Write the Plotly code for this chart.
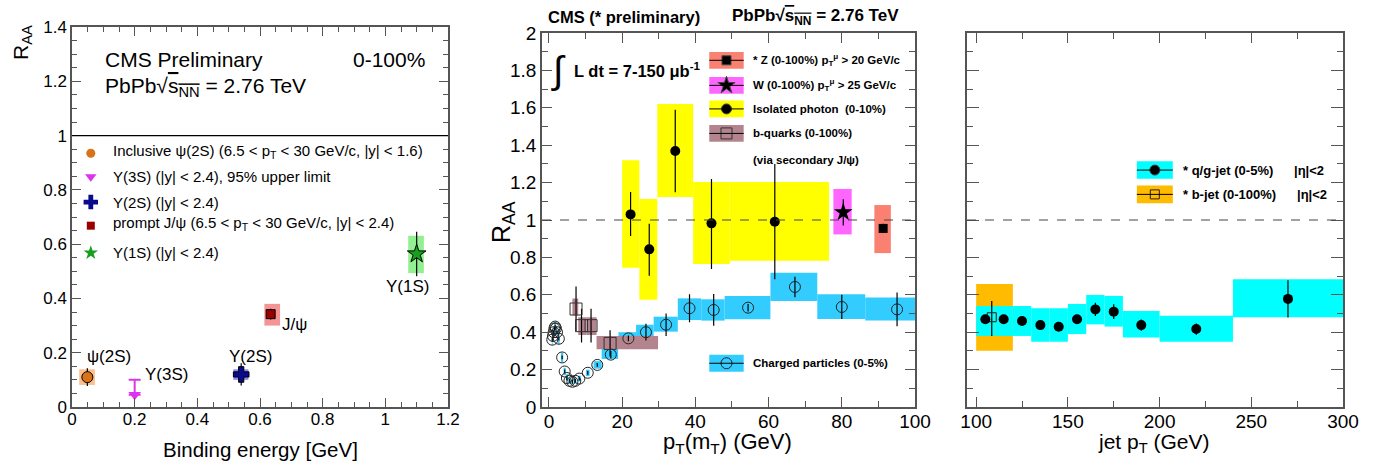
import plotly.graph_objects as go

W, H = 1377, 461
FONT = "Liberation Sans, Arial, sans-serif"

# ---------------- Panel 1 : quarkonia vs binding energy ----------------
q_names = ["ψ(2S)", "Υ(3S)", "Υ(2S)", "J/ψ", "Υ(1S)"]
q_binding = [0.049, 0.20, 0.54, 0.634, 1.10]
q_raa = [0.11, 0.10, 0.12, 0.342, 0.564]          # Υ(3S): 95% upper limit
q_stat = [0.033, 0.0, 0.041, 0.02, 0.082]
q_box_xlo = [0.023, None, 0.515, 0.614, 1.073]
q_box_xhi = [0.073, None, 0.563, 0.664, 1.123]
q_box_ylo = [0.081, None, 0.10, 0.30, 0.493]
q_box_yhi = [0.139, None, 0.139, 0.38, 0.631]
q_limit_tip = 0.045
q_colors = ["#D9731A", "#DD33EE", "#0A0A8C", "#9B0000", "#16A01E"]
q_box_colors = ["#FBC08E", None, "#8C8CF0", "#F49494", "#92F092"]
q_symbols = ["circle", "triangle-down", "cross", "square", "star"]
q_legend = [
    "Inclusive ψ(2S) (6.5 &lt; p<sub>T</sub> &lt; 30 GeV/c, |y| &lt; 1.6)",
    "Υ(3S) (|y| &lt; 2.4), 95% upper limit",
    "Υ(2S) (|y| &lt; 2.4)",
    "prompt J/ψ (6.5 &lt; p<sub>T</sub> &lt; 30 GeV/c, |y| &lt; 2.4)",
    "Υ(1S) (|y| &lt; 2.4)",
]

# ---------------- Panel 2 : RAA vs pT ----------------
# Isolated photons (0-10%)
ph_pt = [22.3, 27.4, 34.5, 44.4, 61.7]
ph_raa = [1.03, 0.843, 1.369, 0.982, 0.991]
ph_eup = [0.12, 0.137, 0.221, 0.237, 0.309]
ph_edn = [0.116, 0.141, 0.221, 0.244, 0.308]
ph_xlo = [20.0, 24.7, 29.6, 39.4, 49.4]
ph_xhi = [24.7, 29.6, 39.4, 49.4, 76.5]
ph_slo = [0.745, 0.574, 1.123, 0.765, 0.782]
ph_shi = [1.32, 1.112, 1.62, 1.203, 1.203]
# W (0-100%)
w_pt = [80.4]
w_raa = [1.041]
w_err = [0.07]
w_xlo, w_xhi, w_slo, w_shi = [77.7], [82.7], [0.923], [1.166]
# Z (0-100%)
z_pt = [91.3]
z_raa = [0.955]
z_err = [0.025]
z_xlo, z_xhi, z_slo, z_shi = [88.9], [93.4], [0.823], [1.08]
# b-quarks via secondary J/psi
bq_pt = [7.4, 8.9, 11.5, 16.7]
bq_raa = [0.524, 0.435, 0.435, 0.34]
bq_err = [0.12, 0.09, 0.09, 0.07]
bq_xlo = [6.4, 8.0, 10.3, 13.0]
bq_xhi = [8.0, 10.3, 13.0, 29.8]
bq_slo = [0.49, 0.385, 0.385, 0.309]
bq_shi = [0.58, 0.48, 0.48, 0.38]
# Charged particles (0-5%)
ch_pt = [0.9, 1.1, 1.3, 1.5, 1.7, 1.9, 2.2, 2.7, 3.6, 4.3, 4.9, 5.6, 6.4, 7.2, 8.3, 10.6, 13.2,
         16.9, 21.7, 26.5, 32.0, 38.4, 45.0, 54.4, 67.2, 80.0, 95.1]
ch_raa = [0.36, 0.38, 0.40, 0.42, 0.43, 0.42, 0.40, 0.365, 0.265, 0.19, 0.155, 0.14, 0.135, 0.14,
          0.152, 0.183, 0.225, 0.28, 0.367, 0.40, 0.44, 0.528, 0.519, 0.531, 0.642, 0.535, 0.522]
ch_err = [0.01] * 17 + [0.02, 0.015, 0.045, 0.06, 0.075, 0.085, 0.02, 0.055, 0.065, 0.09]
ch_xlo = [0.8, 1.0, 1.2, 1.4, 1.6, 1.8, 2.1, 2.5, 3.3, 4.0, 4.6, 5.3, 6.1, 6.9, 7.9, 10.1, 12.2,
          14.4, 19.0, 23.8, 28.6, 35.2, 41.6, 48.0, 60.5, 73.3, 86.4]
ch_xhi = [1.0, 1.2, 1.4, 1.6, 1.8, 2.0, 2.3, 2.9, 3.9, 4.6, 5.2, 5.9, 6.7, 7.5, 8.7, 11.1, 14.4,
          18.9, 23.8, 28.6, 35.2, 41.6, 48.0, 60.5, 73.3, 86.4, 100.0]
ch_slo = [0.33, 0.35, 0.37, 0.39, 0.40, 0.39, 0.37, 0.335, 0.24, 0.17, 0.14, 0.125, 0.12, 0.125,
          0.137, 0.165, 0.205, 0.257, 0.34, 0.36, 0.403, 0.465, 0.462, 0.469, 0.567, 0.471, 0.462]
ch_shi = [0.39, 0.41, 0.43, 0.45, 0.46, 0.45, 0.43, 0.395, 0.29, 0.21, 0.175, 0.155, 0.15, 0.155,
          0.167, 0.20, 0.245, 0.314, 0.40, 0.44, 0.483, 0.581, 0.576, 0.594, 0.718, 0.603, 0.585]

# ---------------- Panel 3 : jets ----------------
jet_pt = [105, 115, 125, 135, 145, 155, 165, 175, 190, 220, 270]
jet_raa = [0.469, 0.469, 0.46, 0.438, 0.429, 0.469, 0.522, 0.51, 0.438, 0.417, 0.578]
jet_err = [0.015, 0.015, 0.015, 0.015, 0.015, 0.02, 0.035, 0.04, 0.03, 0.03, 0.1]
jet_xlo = [100, 110, 120, 130, 140, 150, 160, 170, 180, 200, 240]
jet_xhi = [110, 120, 130, 140, 150, 160, 170, 180, 200, 240, 300]
jet_slo = [0.38, 0.38, 0.38, 0.349, 0.349, 0.39, 0.442, 0.43, 0.371, 0.349, 0.48]
jet_shi = [0.54, 0.54, 0.54, 0.528, 0.528, 0.551, 0.599, 0.594, 0.513, 0.488, 0.683]
bjet_pt = [108.5]
bjet_raa = [0.48]
bjet_eup, bjet_edn = [0.087], [0.10]
bjet_xlo, bjet_xhi, bjet_slo, bjet_shi = [100], [120], [0.301], [0.658]

C_YELLOW = "#FFFF00"
C_W = "#FF66FF"
C_Z = "#FA8072"
C_BQ = "#B4848E"
C_CH = "#33CCFF"
C_JET = "#00FFFF"
C_BJET = "#FFBB00"

fig = go.Figure()
shapes = []
annotations = []


def add_boxes(xref, yref, xlo, xhi, ylo, yhi, color):
    for a, b, c, d in zip(xlo, xhi, ylo, yhi):
        if a is None:
            continue
        shapes.append(dict(type="rect", xref=xref, yref=yref, x0=a, x1=b, y0=c, y1=d,
                           fillcolor=color, line=dict(width=0), layer="below"))


def err(up, dn=None, w=0):
    return dict(type="data", symmetric=dn is None, array=up, arrayminus=dn,
                color="black", thickness=1.2, width=w)


def text(t, x, y, xref, yref, size, xanchor="left", yanchor="middle", angle=0):
    annotations.append(dict(text=t, x=x, y=y, xref=xref, yref=yref, showarrow=False,
                            xanchor=xanchor, yanchor=yanchor, textangle=angle,
                            font=dict(family=FONT, size=size, color="black")))


# ---- Panel 1 ----
for i in range(5):
    if q_box_colors[i]:
        add_boxes("x", "y", [q_box_xlo[i]], [q_box_xhi[i]], [q_box_ylo[i]], [q_box_yhi[i]], q_box_colors[i])
for i in [0, 2, 3, 4]:
    fig.add_trace(go.Scatter(
        x=[q_binding[i]], y=[q_raa[i]], mode="markers", xaxis="x", yaxis="y",
        marker=dict(symbol=q_symbols[i], color=q_colors[i], size=[11, 0, 13, 9, 14][i],
                    line=dict(color="black", width=1)),
        error_y=err([q_stat[i]])))
# upper limit Υ(3S)
fig.add_trace(go.Scatter(
    x=[q_binding[1]], y=[q_raa[1]], mode="markers", xaxis="x", yaxis="y",
    marker=dict(size=1, color="rgba(0,0,0,0)"),
    error_y=dict(type="data", symmetric=False, array=[0], arrayminus=[q_raa[1] - q_limit_tip],
                 color=q_colors[1], thickness=2, width=6)))
fig.add_trace(go.Scatter(
    x=[q_binding[1]], y=[q_limit_tip], mode="markers", xaxis="x", yaxis="y",
    marker=dict(symbol="triangle-down", color=q_colors[1], size=11)))

shapes.append(dict(type="line", xref="x domain", yref="y", x0=0, x1=1, y0=1, y1=1,
                   line=dict(color="black", width=1.2)))

# point labels
lab_pos = [(0.118, 0.185), (0.30, 0.118), (0.57, 0.185), (0.709, 0.305), (1.07, 0.443)]
for name, (lx, ly) in zip(q_names, lab_pos):
    text(name, lx, ly, "x", "y", 17, xanchor="center")

# legend panel 1
leg_y = [0.935, 0.848, 0.755, 0.668, 0.568]
leg_sizes = [9, 10, 12, 8, 11]
for i in range(5):
    fig.add_trace(go.Scatter(x=[0.06], y=[leg_y[i]], mode="markers", xaxis="x", yaxis="y",
                             marker=dict(symbol=q_symbols[i], color=q_colors[i], size=leg_sizes[i])))
    text(q_legend[i], 0.125, leg_y[i] + (0.008 if "sub" in q_legend[i] else 0), "x", "y", 15)

text("CMS Preliminary", 0.1, 1.279, "x", "y", 21)
text("0-100%", 1.133, 1.279, "x", "y", 21, xanchor="right")
text("PbPb√<span style='text-decoration:overline'>s<sub>NN</sub></span> = 2.76 TeV", 0.1, 1.18, "x", "y", 21)
text("R<sub>AA</sub>", 22 / W, (H - 43) / H, "paper", "paper", 21, xanchor="center", angle=-90)
text("Binding energy [GeV]", 260 / W, (H - 449) / H, "paper", "paper", 20.5, xanchor="center")

# ---- Panel 2 ----
add_boxes("x2", "y2", ph_xlo, ph_xhi, ph_slo, ph_shi, C_YELLOW)
add_boxes("x2", "y2", w_xlo, w_xhi, w_slo, w_shi, C_W)
add_boxes("x2", "y2", z_xlo, z_xhi, z_slo, z_shi, C_Z)
add_boxes("x2", "y2", ch_xlo, ch_xhi, ch_slo, ch_shi, C_CH)
add_boxes("x2", "y2", bq_xlo, bq_xhi, bq_slo, bq_shi, C_BQ)

shapes.append(dict(type="line", xref="x2 domain", yref="y2", x0=0, x1=1, y0=1, y1=1,
                   line=dict(color="#444", width=1, dash="dash")))

fig.add_trace(go.Scatter(x=ch_pt, y=ch_raa, mode="markers", xaxis="x2", yaxis="y2",
                         marker=dict(symbol="circle-open", color="#222", size=11, line=dict(width=1)),
                         error_y=err(ch_err)))
fig.add_trace(go.Scatter(x=bq_pt, y=bq_raa, mode="markers", xaxis="x2", yaxis="y2",
                         marker=dict(symbol="square-open", color="#333", size=12, line=dict(width=1)),
                         error_y=err(bq_err)))
fig.add_trace(go.Scatter(x=ph_pt, y=ph_raa, mode="markers", xaxis="x2", yaxis="y2",
                         marker=dict(symbol="circle", color="black", size=10),
                         error_y=err(ph_eup, ph_edn)))
fig.add_trace(go.Scatter(x=w_pt, y=w_raa, mode="markers", xaxis="x2", yaxis="y2",
                         marker=dict(symbol="star", color="black", size=14),
                         error_y=err(w_err)))
fig.add_trace(go.Scatter(x=z_pt, y=z_raa, mode="markers", xaxis="x2", yaxis="y2",
                         marker=dict(symbol="square", color="black", size=9),
                         error_y=err(z_err)))

# legend panel 2
lg_x0, lg_x1, lg_tx = 43.8, 53.2, 55.3
leg2 = [
    (1.854, C_Z, "square", "black", 9, "<b>* Z (0-100%) p<sub>T</sub><sup>μ</sup> &gt; 20 GeV/c</b>"),
    (1.72, C_W, "star", "black", 13, "<b>W (0-100%) p<sub>T</sub><sup>μ</sup> &gt; 25 GeV/c</b>"),
    (1.594, C_YELLOW, "circle", "black", 10, "<b>Isolated photon  (0-10%)</b>"),
    (1.463, C_BQ, "square-open", "#333", 11, "<b>b-quarks (0-100%)</b>"),
    (0.234, C_CH, "circle-open", "#222", 11, "<b>Charged particles (0-5%)</b>"),
]
for (ly, bc, sym, mc, ms, t) in leg2:
    shapes.append(dict(type="rect", xref="x2", yref="y2", x0=lg_x0, x1=lg_x1, y0=ly - 0.045, y1=ly + 0.045,
                       fillcolor=bc, line=dict(width=0), layer="below"))
    shapes.append(dict(type="line", xref="x2", yref="y2", x0=lg_x0, x1=lg_x1, y0=ly, y1=ly,
                       line=dict(color="black", width=1)))
    fig.add_trace(go.Scatter(x=[(lg_x0 + lg_x1) / 2], y=[ly], mode="markers", xaxis="x2", yaxis="y2",
                             marker=dict(symbol=sym, color=mc, size=ms, line=dict(width=1))))
    text(t, lg_tx, ly, "x2", "y2", 11.5)
text("<b>(via secondary J/ψ)</b>", lg_tx, 1.32, "x2", "y2", 11.5)

text("∫", 2.6, 1.80, "x2", "y2", 38, xanchor="center")
text("<b>L dt = 7-150 μb<sup>-1</sup></b>", 6.2, 1.80, "x2", "y2", 16.5)
text("<b>CMS (* preliminary)</b>", 546 / W, (H - 16.5) / H, "paper", "paper", 16.5)
text("<b>PbPb√<span style='text-decoration:overline'>s<sub>NN</sub></span> = 2.76 TeV</b>", 730 / W, (H - 16.5) / H,
     "paper", "paper", 17)
text("R<sub>AA</sub>", 503 / W, (H - 222) / H, "paper", "paper", 25, xanchor="center", angle=-90)
text("p<sub>T</sub>(m<sub>T</sub>) (GeV)", 727 / W, (H - 443) / H, "paper", "paper", 22, xanchor="center")

# ---- Panel 3 ----
add_boxes("x3", "y3", bjet_xlo, bjet_xhi, bjet_slo, bjet_shi, C_BJET)
add_boxes("x3", "y3", jet_xlo, jet_xhi, jet_slo, jet_shi, C_JET)
shapes.append(dict(type="line", xref="x3 domain", yref="y3", x0=0, x1=1, y0=1, y1=1,
                   line=dict(color="#444", width=1, dash="dash")))
fig.add_trace(go.Scatter(x=bjet_pt, y=bjet_raa, mode="markers", xaxis="x3", yaxis="y3",
                         marker=dict(symbol="square-open", color="#222", size=9, line=dict(width=1)),
                         error_y=err(bjet_eup, bjet_edn)))
fig.add_trace(go.Scatter(x=jet_pt, y=jet_raa, mode="markers", xaxis="x3", yaxis="y3",
                         marker=dict(symbol="circle", color="black", size=10),
                         error_y=err(jet_err)))

leg3 = [
    (1.267, C_JET, "circle", "black", 10, "<b>* q/g-jet (0-5%)</b>", 272),
    (1.137, C_BJET, "square-open", "#222", 9, "<b>* b-jet (0-100%)</b>", 274),
]
for (ly, bc, sym, mc, ms, t, ex) in leg3:
    shapes.append(dict(type="rect", xref="x3", yref="y3", x0=187.6, x1=207.2, y0=ly - 0.047, y1=ly + 0.047,
                       fillcolor=bc, line=dict(width=0), layer="below"))
    shapes.append(dict(type="line", xref="x3", yref="y3", x0=187.6, x1=207.2, y0=ly, y1=ly,
                       line=dict(color="black", width=1)))
    fig.add_trace(go.Scatter(x=[197.4], y=[ly], mode="markers", xaxis="x3", yaxis="y3",
                             marker=dict(symbol=sym, color=mc, size=ms, line=dict(width=1))))
    text(t, 211.5, ly, "x3", "y3", 13)
    text("<b>|η|&lt;2</b>", ex, ly, "x3", "y3", 13)
text("jet p<sub>T</sub> (GeV)", 1154 / W, (H - 443) / H, "paper", "paper", 21, xanchor="center")

# ---- axes ----
AX = dict(showline=True, linecolor="#555", linewidth=1.5, mirror="ticks", ticks="inside",
          tickcolor="#555", tickwidth=1.2, showgrid=False, zeroline=False, automargin=False,
          tickfont=dict(family=FONT, color="black"))
yb = (H - 407) / H

fig.update_layout(
    width=W, height=H, margin=dict(l=0, r=0, t=0, b=0, autoexpand=False),
    paper_bgcolor="white", plot_bgcolor="white", showlegend=False,
    xaxis=dict(AX, domain=[72 / W, 448 / W], range=[0, 1.2], dtick=0.2, tick0=0, ticklen=9,
               ticklabelstandoff=-4,
               tickfont=dict(family=FONT, size=17, color="black"), anchor="y",
               minor=dict(dtick=0.05, ticklen=5, ticks="inside", tickcolor="#555")),
    yaxis=dict(AX, domain=[yb, (H - 27) / H], range=[0, 1.4], dtick=0.2, tick0=0, ticklen=9,
               tickfont=dict(family=FONT, size=17, color="black"), anchor="x",
               minor=dict(dtick=0.05, ticklen=5, ticks="inside", tickcolor="#555")),
    xaxis2=dict(AX, domain=[542 / W, 915 / W], range=[-1.9, 100], dtick=20, tick0=0, ticklen=10,
                ticklabelstandoff=-4,
                tickfont=dict(family=FONT, size=19, color="black"), anchor="y2",
                minor=dict(dtick=10, ticklen=6, ticks="inside", tickcolor="#555")),
    yaxis2=dict(AX, domain=[yb, (H - 33) / H], range=[0, 2], dtick=0.2, tick0=0, ticklen=10,
                tickfont=dict(family=FONT, size=19, color="black"), anchor="x2",
                minor=dict(dtick=0.1, ticklen=6, ticks="inside", tickcolor="#555")),
    xaxis3=dict(AX, domain=[967 / W, 1343 / W], range=[95, 300], dtick=50, tick0=0, ticklen=10,
                ticklabelstandoff=-4,
                tickfont=dict(family=FONT, size=19, color="black"), anchor="y3",
                minor=dict(dtick=25, ticklen=6, ticks="inside", tickcolor="#555")),
    yaxis3=dict(AX, domain=[yb, (H - 33) / H], range=[0, 2], dtick=0.2, tick0=0, ticklen=12,
                showticklabels=False, anchor="x3",
                minor=dict(dtick=0.1, ticklen=6, ticks="inside", tickcolor="#555")),
    shapes=shapes,
    annotations=annotations,
)

fig.write_html("out.html", config={"displayModeBar": False},
               post_script="document.body.style.margin='0px';")
